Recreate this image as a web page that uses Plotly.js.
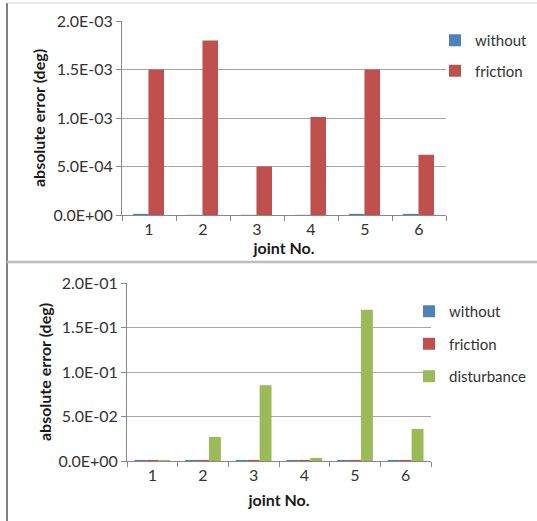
<!DOCTYPE html>
<html>
<head>
<meta charset="utf-8">
<script src="https://cdn.plot.ly/plotly-3.0.1.min.js"></script>
<style>html,body{margin:0;padding:0;background:#fff;}#chart{width:537px;height:521px;}</style>
</head>
<body>
<div id="chart"></div>
<script>
// ---- data ----
const joints = ["1", "2", "3", "4", "5", "6"];
// top chart (friction only)
const topWithout  = [0.000012, 0.000002, 0.000002, 0.000002, 0.000012, 0.000012];
const topFriction = [0.0015, 0.0018, 0.0005, 0.00101, 0.0015, 0.00062];
const topTickVals = [0, 0.0005, 0.001, 0.0015, 0.002];
const topTickText = ["0.0E+00", "5.0E-04", "1.0E-03", "1.5E-03", "2.0E-03"];
// bottom chart (with disturbance)
const botWithout     = [0.0012, 0.0012, 0.0012, 0.0012, 0.0012, 0.0012];
const botFriction    = [0.0012, 0.0012, 0.0012, 0.0012, 0.0012, 0.0012];
const botDisturbance = [0.0012, 0.027, 0.085, 0.0035, 0.17, 0.036];
const botTickVals = [0, 0.05, 0.1, 0.15, 0.2];
const botTickText = ["0.0E+00", "5.0E-02", "1.0E-01", "1.5E-01", "2.0E-01"];
const seriesNames = ["without", "friction", "disturbance"];

const C_BLUE = "#4F81BD", C_RED = "#C0504D", C_GREEN = "#9BBB59";
const W = 537, H = 521;
const px = v => v / W;
const py = v => 1 - v / H;
const FONT = "Lato, 'Open Sans', sans-serif";

const TW = 0.288;   // top bar width (category units)
const BW = 0.235;   // bottom bar width

const traces = [
  {type: "bar", x: joints, y: topWithout, name: seriesNames[0], marker: {color: C_BLUE}, width: TW, offset: -TW - 0.01,
    xaxis: "x", yaxis: "y", legend: "legend", legendgroup: "a"},
  {type: "bar", x: joints, y: topFriction, name: seriesNames[1], marker: {color: C_RED}, width: TW, offset: -0.01,
    xaxis: "x", yaxis: "y", legend: "legend", legendgroup: "b"},
  {type: "bar", x: joints, y: botWithout, name: seriesNames[0], marker: {color: C_BLUE}, width: BW, offset: -1.5 * BW,
    xaxis: "x2", yaxis: "y2", legend: "legend2", legendgroup: "c"},
  {type: "bar", x: joints, y: botFriction, name: seriesNames[1], marker: {color: C_RED}, width: BW, offset: -0.5 * BW,
    xaxis: "x2", yaxis: "y2", legend: "legend2", legendgroup: "d"},
  {type: "bar", x: joints, y: botDisturbance, name: seriesNames[2], marker: {color: C_GREEN}, width: BW, offset: 0.5 * BW,
    xaxis: "x2", yaxis: "y2", legend: "legend2", legendgroup: "e"}
];

const tickFont = {family: FONT, size: 16, color: "#333"};
const titleFont = {family: FONT, size: 16, color: "#1a1a1a", weight: "bold"};

const xCommon = {
  type: "category", tickson: "boundaries", ticks: "outside", ticklen: 5, tickcolor: "#888",
  showline: true, linecolor: "#888", linewidth: 1, showgrid: false, zeroline: false,
  tickfont: tickFont, fixedrange: true
};
const yCommon = {
  ticks: "outside", ticklen: 5, tickcolor: "#888", showline: true, linecolor: "#888", linewidth: 1,
  showgrid: true, gridcolor: "#a6a6a6", gridwidth: 1, zeroline: false, tickfont: tickFont, fixedrange: true
};

const layout = {
  width: W, height: H,
  margin: {l: 0, r: 0, t: 0, b: 0},
  paper_bgcolor: "#fff", plot_bgcolor: "#fff",
  barmode: "overlay",
  showlegend: true,
  font: {family: FONT},
  xaxis: Object.assign({}, xCommon, {domain: [px(122), px(446)], anchor: "y",
    title: {text: "joint No.", font: titleFont, standoff: 3}}),
  yaxis: Object.assign({}, yCommon, {domain: [py(215), py(21)], anchor: "x", range: [0, 0.002],
    tickvals: topTickVals, ticktext: topTickText,
    title: {text: "absolute error (deg)", font: titleFont, standoff: 3}}),
  xaxis2: Object.assign({}, xCommon, {domain: [px(127), px(431)], anchor: "y2",
    title: {text: "joint No.", font: titleFont, standoff: 11}}),
  yaxis2: Object.assign({}, yCommon, {domain: [py(461), py(283)], anchor: "x2", range: [0, 0.2],
    tickvals: botTickVals, ticktext: botTickText,
    title: {text: "absolute error (deg)", font: titleFont, standoff: 2}}),
  legend: {x: px(435), y: py(24), xanchor: "left", yanchor: "top", bgcolor: "rgba(0,0,0,0)",
    font: {family: FONT, size: 15, color: "#333"}, tracegroupgap: 8, traceorder: "grouped"},
  legend2: {x: px(409), y: py(295), xanchor: "left", yanchor: "top", bgcolor: "rgba(0,0,0,0)",
    font: {family: FONT, size: 15, color: "#333"}, tracegroupgap: 10, traceorder: "grouped"},
  shapes: [
    {type: "line", xref: "paper", yref: "paper", x0: px(7), x1: px(7), y0: py(3), y1: 0, line: {color: "#808080", width: 2}},
    {type: "line", xref: "paper", yref: "paper", x0: px(7), x1: 1, y0: py(3), y1: py(3), line: {color: "#d0d0d0", width: 1}},
    {type: "line", xref: "paper", yref: "paper", x0: px(7), x1: 1, y0: py(262), y1: py(262), line: {color: "#bdbdbd", width: 2.5}}
  ]
};

Plotly.newPlot("chart", traces, layout, {displayModeBar: false, staticPlot: true});
</script>
</body>
</html>
